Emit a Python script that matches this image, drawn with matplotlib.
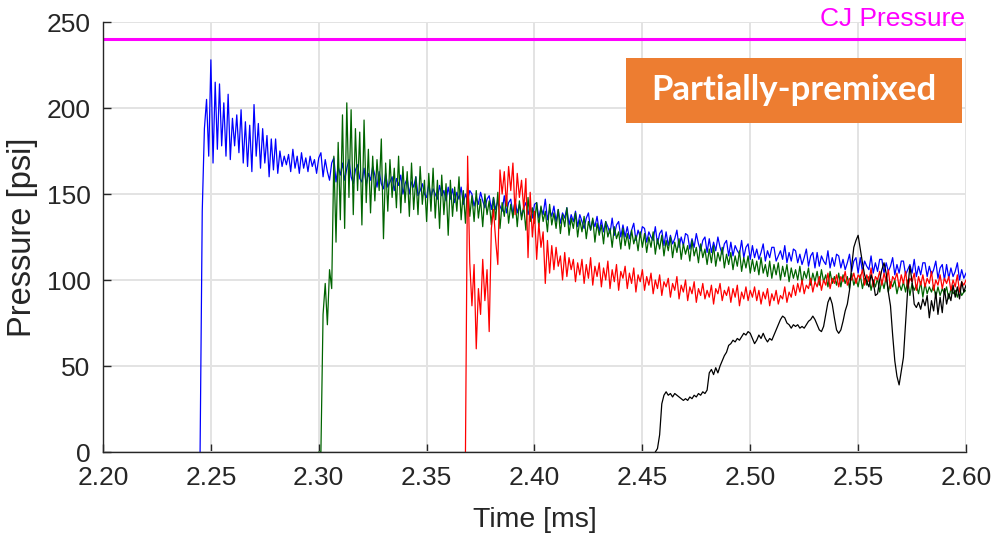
import numpy as np
import matplotlib
matplotlib.use("Agg")
import matplotlib.pyplot as plt
from matplotlib.patches import Rectangle

plt.rcParams['font.family'] = ['Liberation Sans', 'DejaVu Sans']

# pressure traces, sampled every 0.001 ms from each start time
dt = 0.001
cj_pressure = 240

blue_t0 = 2.245
blue_psi = [
    0, 140, 188, 205, 172, 228, 168, 215, 176, 214,
    178, 203, 172, 208, 170, 194, 178, 196, 174, 199,
    168, 192, 166, 190, 163, 202, 172, 191, 165, 188,
    168, 184, 160, 182, 164, 182, 162, 175, 166, 172,
    167, 173, 163, 176, 165, 172, 162, 174, 165, 171,
    163, 172, 166, 170, 162, 171,
    174, 160, 170, 163, 158, 168, 171, 157, 166, 161,
    168, 158, 165, 170, 160, 156, 164, 167, 159, 157,
    165, 155, 162, 158, 166, 161, 154, 163, 156, 153,
    162, 154, 157, 160, 152, 159, 155, 161, 150, 156,
    159, 150, 157, 154, 160, 149, 152, 156, 150, 148,
    156, 148, 153, 150, 147, 155, 149, 152, 146, 154,
    147, 153, 145, 151, 147, 154, 144, 150, 146, 152,
    150, 143, 148, 144, 151, 146, 142, 147, 149, 141,
    148, 141, 146, 143, 140, 149, 139, 145, 147, 138,
    146, 139, 144, 137, 142, 145, 138, 143, 136, 144,
    145, 136, 142, 138, 147, 135, 141, 137, 143, 134,
    141, 133, 139, 136, 142, 132, 138, 134, 140, 131,
    138, 134, 130, 136, 139, 129, 135, 131, 137, 128,
    135, 128, 134, 131, 127, 136, 126, 132, 134, 125,
    132, 125, 131, 124, 129, 133, 123, 129, 125, 131,
    130, 122, 128, 125, 123, 131, 121, 127, 129, 120,
    128, 120, 126, 121, 124, 129, 119, 125, 120, 127,
    126, 118, 124, 119, 127, 121, 117, 123, 125, 116,
    124, 116, 122, 117, 125, 119, 115, 121, 123, 114,
    122, 114, 120, 117, 115, 123, 113, 119, 121, 112,
    120, 113, 118, 112, 116, 121, 111, 117, 113, 119,
    119, 111, 114, 117, 112, 120, 110, 116, 111, 118,
    117, 110, 115, 109, 113, 118, 108, 114, 116, 107,
    116, 108, 114, 111, 109, 117, 107, 113, 108, 115,
    114, 107, 112, 106, 110, 115, 105, 111, 113, 104,
    113, 105, 111, 108, 106, 114, 104, 110, 105, 112,
    112, 104, 110, 105, 108, 113, 103, 109, 104, 111,
    111, 103, 106, 109, 104, 112, 102, 108, 103, 110,
    110, 102, 108, 103, 106, 111, 101, 107, 109, 100,
    109, 101, 107, 102, 105, 110, 100, 106, 101, 104,
]

green_t0 = 2.300
green_psi = [
    0, 0, 80, 98, 74, 106, 95, 172, 122, 180,
    135, 196, 130, 203, 148, 199, 138, 188, 152, 186,
    132, 193, 145, 176, 139, 172, 146, 170, 152, 182,
    124, 168, 140, 170, 148, 165, 142, 172, 139, 166,
    145, 163, 137, 168, 141, 160, 138, 166, 144, 158,
    134, 162, 140, 165, 136, 158, 130, 161, 138, 156,
    126, 158, 137, 154, 140, 160, 135, 152, 133, 156,
    137,
    149, 134, 152, 136, 147, 131, 150, 138, 146, 132,
    148, 135, 151, 130, 145, 137, 149, 133, 144, 136,
    147, 131, 146, 135, 143, 129, 148, 134, 142, 133,
    145, 131, 143, 134, 140, 128, 144, 132, 139, 130,
    141, 127, 138, 131, 142, 126, 136, 130, 139, 125,
    135, 128, 137, 124, 134, 129, 136, 122, 133, 126,
    132, 121, 134, 125, 130, 119, 131, 124, 128, 118,
    130, 120, 127, 118, 129, 121, 126, 117, 128, 119,
    127, 116, 125, 119, 128, 115, 124, 118, 126, 114,
    123, 117, 125, 113, 122, 116, 124, 112, 121, 115,
    120, 111, 123, 114, 119, 110, 121, 113, 118, 109,
    118, 110, 120, 108, 116, 111, 119, 107, 115, 109,
    116, 106, 114, 108, 117, 105, 113, 107, 114, 104,
    112, 105, 111, 103, 113, 104, 109, 102, 111, 101,
    109, 103, 110, 100, 108, 102, 109, 99, 107, 101,
    106, 100, 108, 98, 105, 101, 107, 97, 104, 99,
    105, 97, 106, 99, 103, 96, 105, 98, 102, 97,
    104, 96, 103, 98, 102, 95, 104, 97, 101, 96,
    103, 95, 101, 97, 102, 94, 100, 96, 101, 93,
    100, 95, 102, 93, 99, 96, 100, 92, 98, 94,
    99, 93, 100, 91, 98, 94, 97, 92, 99, 90,
    98, 92, 96, 93, 97, 90, 96, 91, 95, 92,
    96, 89, 95, 92, 94, 90, 95, 91, 93, 94,
]

red_t0 = 2.368
red_psi = [
    0, 172, 110, 85, 109, 60, 95, 80, 112, 88,
    106, 70, 130, 141, 123, 109, 164, 150, 163, 143,
    166, 152, 168, 138, 162, 148, 158, 141, 159, 113,
    151, 125, 140, 112, 133, 119, 128, 98, 123, 104,
    120, 106, 119, 108, 114, 100, 116, 102, 113, 106,
    112, 99, 110,
    103, 112, 98, 109, 101, 113, 97, 108, 102, 110,
    96, 107, 100, 111, 95, 106, 99, 109, 94, 105,
    101, 108, 95, 104, 98, 107, 93, 103, 99, 106,
    94, 102, 97, 104, 92, 100, 95, 103, 91, 99,
    96, 101, 90, 98, 94, 102, 89, 97, 93, 100,
    88, 96, 92, 99, 87, 95, 91, 98, 89, 94,
    90, 97, 86, 95, 92, 98, 88, 94, 91, 96,
    87, 95, 90, 97, 85, 93, 89, 96, 88, 94,
    90, 96, 88, 94, 86, 93, 89, 95, 85, 92,
    88, 94, 86, 91, 89, 96, 87, 93, 90, 97,
    91, 98, 93, 100, 92, 97, 95, 101, 93, 99,
    96, 102, 94, 100, 97, 104, 95, 101, 98, 103,
    96, 102, 99, 105, 97, 101, 100, 104, 98, 103,
    101, 106, 97, 103, 99, 107, 96, 102, 100, 105,
    97, 104, 99, 106, 95, 102, 100, 104, 96, 103,
    98, 105, 95, 101, 99, 104, 94, 102, 97, 103,
    96, 101, 98, 105, 94, 100, 97, 103, 95, 101,
    98, 102, 94, 100, 96, 103, 93, 99, 97, 100,
]

black_t0 = 2.456
black_psi = [
    0, 2, 10, 28, 33, 35, 33, 34, 32, 34,
    33, 32, 31, 30, 31, 30, 32, 31, 33, 32,
    34, 33, 35, 34, 36, 46, 48, 45, 49, 46,
    50, 53, 56, 58, 62, 63, 65, 64, 66, 65,
    67, 69, 68, 70, 69, 66, 63, 65, 68, 66,
    69, 66, 64, 66, 65, 68, 71, 74, 77, 79,
    78, 75, 74, 72, 74, 73, 74, 72, 73, 72,
    74, 76, 77, 79, 77, 74, 71, 70, 73, 80,
    87, 90, 86, 78, 71, 69, 71, 76, 82, 86,
    94, 108, 119, 123, 126, 118, 110, 103, 99, 96,
    103, 99, 91, 92, 100, 106, 110, 104, 93, 85,
    68, 53, 44, 39, 47, 55, 75, 95, 108, 99,
    86, 84, 87, 83, 89, 85, 91, 78, 88, 82,
    93, 80, 90, 81, 95, 86, 92, 88, 97, 90,
    96, 89, 99, 93, 97,
]

series = [
    (blue_t0, blue_psi, '#0000FF'),
    (green_t0, green_psi, '#006400'),
    (red_t0, red_psi, '#FF0000'),
    (black_t0, black_psi, '#000000'),
]

fig = plt.figure(figsize=(9.94, 5.37), dpi=100)
ax = fig.add_axes([103 / 994, 1 - 452 / 537, 863 / 994, 430 / 537])

for t0, psi, color in series:
    t = t0 + dt * np.arange(len(psi))
    ax.plot(t, psi, color=color, linewidth=0.9)

ax.axhline(cj_pressure, color='#FF00FF', linewidth=2.2)

ax.set_xlim(2.20, 2.60)
ax.set_ylim(0, 250)
ax.set_xticks(np.arange(2.20, 2.601, 0.05))
ax.set_xticklabels([f"{v:.2f}" for v in np.arange(2.20, 2.601, 0.05)])
ax.set_yticks(np.arange(0, 251, 50))
ax.grid(True, color='#E3E3E3', linewidth=1.4)
ax.set_axisbelow(True)
for side in ['top', 'right']:
    ax.spines[side].set_visible(False)
for side in ['left', 'bottom']:
    ax.spines[side].set_color('#262626')
    ax.spines[side].set_linewidth(1.0)
ax.tick_params(direction='in', length=6, width=1, colors='#262626',
               labelsize=19, labelcolor='#262626')
ax.tick_params(axis='y', pad=9)
ax.tick_params(axis='x', pad=10)
ax.set_xlabel("Time [ms]", fontsize=20.5, color='#262626', labelpad=12)
ax.set_ylabel("Pressure [psi]", fontsize=23.5, color='#262626', labelpad=6)

fig.text(0.971, 1 - 19 / 537, "CJ Pressure", color='#FF00FF', fontsize=19,
         ha='right', va='center')

fig.patches.append(Rectangle((626 / 994, 1 - 123 / 537), 336 / 994, 65 / 537,
                             transform=fig.transFigure, facecolor='#ED7D31',
                             edgecolor='none', zorder=5))
fig.text(794 / 994, 1 - 90 / 537, "Partially-premixed", color='white',
         fontsize=25, fontweight='bold', family=['Lato', 'DejaVu Sans'],
         ha='center', va='center', zorder=6)

fig.savefig("out.png", dpi=100)
